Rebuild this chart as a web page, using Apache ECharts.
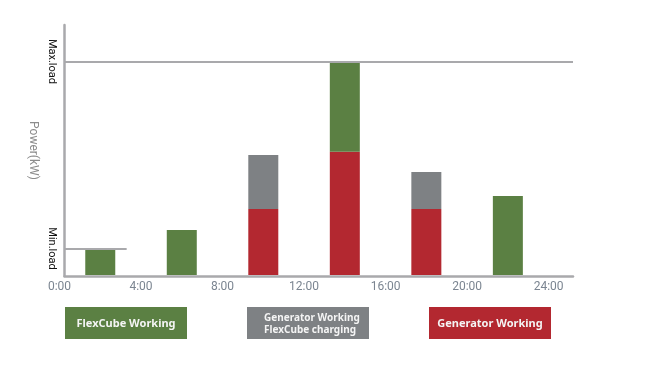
<!DOCTYPE html>
<html><head><meta charset="utf-8">
<script src="https://cdn.jsdelivr.net/npm/echarts@6/dist/echarts.min.js"></script>
<style>html,body{margin:0;padding:0;background:#fff}#c{width:659px;height:369px}</style>
</head><body><div id="c"></div>
<script>
// ---- data ----
const hourSlots = [0,1,2,3,4,5,6,7,8,9,10,11,12,13,14,15,16,17,18,19,20,21,22,23,24,25];
const hours = [2, 6, 10, 14, 18, 22];
const generatorWorking = [0, 0, 30.9, 57.7, 30.9, 0];
const generatorCharging = [0, 0, 25.3, 0, 17.3, 0];
const flexcubeWorking = [12.2, 21.1, 0, 42.0, 0, 37.0];
const xTickHours = [0, 4, 8, 12, 16, 20, 24];
const loadLevels = [12.8, 100];
const loadLabels = ['Min.load', 'Max.load'];
const loadLineEnds = [3.3, 25.2];
const legendNames = ['FlexCube Working', 'Generator Working\nFlexCube charging', 'Generator Working'];

const GREEN = '#5b8043', GRAY = '#7e8184', RED = '#b32830', AXIS = '#a9a9ac';

const chart = echarts.init(document.getElementById('c'), null, {renderer: 'canvas'});
const toSlots = arr => hourSlots.map(s => {
  const i = hours.indexOf(s);
  return i >= 0 && arr[i] > 0 ? arr[i] : '-';
});
const barBase = {type: 'bar', stack: 'load', barWidth: 30, xAxisIndex: 0, yAxisIndex: 0, silent: true};

chart.setOption({
  animation: false,
  backgroundColor: '#ffffff',
  grid: [
    {left: 59.5, right: 90, top: 25, bottom: 94},
    {left: 64.5, right: 86, top: 25, bottom: 93}
  ],
  xAxis: [
    {gridIndex: 0, type: 'category', boundaryGap: false, data: hourSlots.map(String),
     axisLine: {show: false}, axisTick: {show: false}, splitLine: {show: false},
     axisLabel: {interval: (idx, val) => xTickHours.indexOf(Number(val)) >= 0, formatter: v => v + ':00',
                 color: '#7b8591', fontSize: 12, fontFamily: 'Roboto', margin: 6}},
    {gridIndex: 1, type: 'value', min: 0.25, max: 25.2,
     axisLine: {show: true, lineStyle: {color: AXIS, width: 2.5}},
     axisTick: {show: false}, splitLine: {show: false}, axisLabel: {show: false}}
  ],
  yAxis: [
    {gridIndex: 0, type: 'value', min: 0, max: 117, show: false, splitLine: {show: false}},
    {gridIndex: 1, type: 'value', min: 0, max: 117,
     axisLine: {show: true, lineStyle: {color: AXIS, width: 2.5}},
     axisTick: {show: false}, splitLine: {show: false},
     axisLabel: {customValues: loadLevels, formatter: v => loadLabels[loadLevels.indexOf(v)] || '',
                 rotate: -90, margin: 7, color: '#111111', fontSize: 11, fontFamily: 'Roboto'},
     name: 'Power(kW)', nameLocation: 'middle', nameRotate: -90, nameGap: 6,
     nameTextStyle: {color: '#8c8c8c', fontSize: 12, fontFamily: 'Roboto'}}
  ],
  series: [
    Object.assign({}, barBase, {name: 'Generator Working', data: toSlots(generatorWorking), itemStyle: {color: RED}}),
    Object.assign({}, barBase, {name: 'Generator Working FlexCube charging', data: toSlots(generatorCharging), itemStyle: {color: GRAY}}),
    Object.assign({}, barBase, {name: 'FlexCube Working', data: toSlots(flexcubeWorking), itemStyle: {color: GREEN}}),
    {type: 'line', xAxisIndex: 1, yAxisIndex: 1, data: [], silent: true,
     markLine: {silent: true, symbol: ['none', 'none'], label: {show: false},
       lineStyle: {color: AXIS, width: 2, type: 'solid'},
       data: loadLevels.map((v, i) => [{coord: [0.25, v]}, {coord: [loadLineEnds[i], v]}])}}
  ],
  graphic: [
    {type: 'group', left: 65, top: 307, children: [
      {type: 'rect', shape: {x: 0, y: 0, width: 122, height: 32}, style: {fill: GREEN}},
      {type: 'text', x: 61, y: 17, style: {text: legendNames[0], fill: '#f4f4f4', font: 'bold 11px "Noto Sans"', align: 'center', verticalAlign: 'middle'}}
    ]},
    {type: 'group', left: 247, top: 307, children: [
      {type: 'rect', shape: {x: 0, y: 0, width: 122, height: 32}, style: {fill: GRAY}},
      {type: 'text', x: 17, y: 17, style: {text: legendNames[1], fill: '#f4f4f4', font: 'bold 10px "Noto Sans"', lineHeight: 12, align: 'left', verticalAlign: 'middle'}}
    ]},
    {type: 'group', left: 429, top: 307, children: [
      {type: 'rect', shape: {x: 0, y: 0, width: 122, height: 32}, style: {fill: RED}},
      {type: 'text', x: 61, y: 17, style: {text: legendNames[2], fill: '#f4f4f4', font: 'bold 11px "Noto Sans"', align: 'center', verticalAlign: 'middle'}}
    ]}
  ]
});
</script>
</body></html>
